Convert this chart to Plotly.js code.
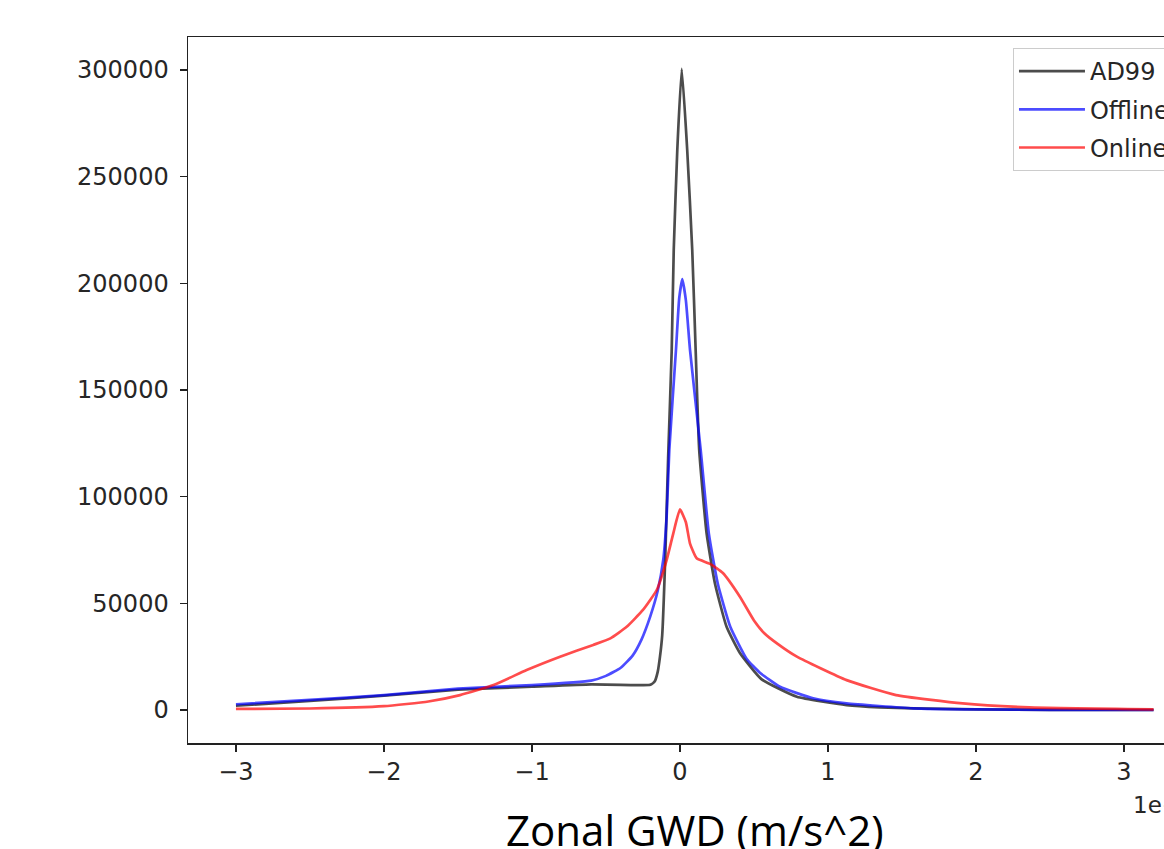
<!DOCTYPE html>
<html>
<head>
<meta charset="utf-8">
<script src="https://cdn.plot.ly/plotly-3.0.1.min.js"></script>
<style>
html,body{margin:0;padding:0;background:#fff;overflow:hidden;width:1164px;height:849px;}
#wrap{width:1164px;height:849px;overflow:hidden;position:relative;}
#chart{width:1240px;height:849px;}
</style>
</head>
<body>
<div id="wrap"><div id="chart"></div></div>
<script>
// AD99 (black)
const ad99X = [-3.0,-2.5,-2.0,-1.5,-1.0,-0.6,-0.3,-0.2,-0.17,-0.15,-0.135,-0.12,-0.1,-0.08,-0.056,-0.042,-0.018,0.012,0.049,0.083,0.106,0.13,0.18,0.236,0.315,0.405,0.55,0.79,1.126,1.35,1.58,2.0,2.5,3.2];
const ad99Y = [2000,4300,6700,9500,10900,12000,11700,11800,13500,18000,25000,35000,70000,118000,168000,215600,262500,300500,262500,215600,168750,121900,82800,59400,39000,26700,14500,6200,2300,1250,800,300,100,0];
// Offline (blue)
const offX = [-3.0,-2.5,-2.0,-1.5,-1.0,-0.6,-0.5,-0.4,-0.32,-0.26,-0.2,-0.15,-0.113,-0.09,-0.072,-0.027,-0.005,0.016,0.04,0.068,0.14,0.195,0.255,0.34,0.45,0.54,0.676,0.9,1.126,1.575,2.0,2.5,3.2];
const offY = [2700,4700,7000,10000,11700,13800,16000,19800,25500,33000,44000,56000,70300,90600,121900,168750,193000,202000,192000,168750,121900,82800,59400,39000,24000,17500,10900,5500,3100,800,300,100,0];
// Online (red)
const onX = [-3.0,-2.5,-2.0,-1.7,-1.486,-1.26,-1.036,-0.81,-0.586,-0.47,-0.36,-0.25,-0.157,-0.09,-0.045,0.0,0.04,0.068,0.113,0.203,0.29,0.405,0.5,0.57,0.66,0.79,1.126,1.46,1.91,2.36,3.2];
const onY = [500,700,1800,4000,7000,11700,18750,25000,30500,33600,39000,46900,56250,70300,82800,94000,88000,78000,71100,68500,64200,53100,42000,36000,31000,25000,14000,7000,3100,1250,300];

const seriesNames = ['AD99','Offline','Online'];
const seriesColors = ['rgba(0,0,0,0.7)','rgba(0,0,255,0.7)','rgba(255,0,0,0.7)'];

const xTickVals = [-3,-2,-1,0,1,2,3];
const xTickText = ['\u22123','\u22122','\u22121','0','1','2','3'];
const yTickVals = [0,50000,100000,150000,200000,250000,300000];
const yTickText = ['0','50000','100000','150000','200000','250000','300000'];

const xs = [ad99X, offX, onX];
const ys = [ad99Y, offY, onY];
const traces = seriesNames.map((n,i)=>({
  x: xs[i], y: ys[i], name: n, type: 'scatter', mode: 'lines',
  legendgroup: 'g'+i,
  line: {color: seriesColors[i], width: 2.7, shape: 'spline', smoothing: 0.45}
}));

const tickFont = {family: 'DejaVu Sans', size: 24, color: '#262626'};
const layout = {
  width: 1240, height: 849,
  margin: {l: 188, r: 41, t: 37, b: 106},
  paper_bgcolor: '#fff', plot_bgcolor: '#fff',
  showlegend: true,
  xaxis: {
    range: [-3.324, 3.507], tickvals: xTickVals, ticktext: xTickText,
    showgrid: false, zeroline: false, showline: true, linecolor: '#222', linewidth: 1.5,
    mirror: true, ticks: 'outside', ticklen: 7, tickwidth: 1.5, tickcolor: '#222',
    tickfont: tickFont, ticklabelstandoff: 0
  },
  yaxis: {
    range: [-15469, 315469], tickvals: yTickVals, ticktext: yTickText,
    showgrid: false, zeroline: false, showline: true, linecolor: '#222', linewidth: 1.5,
    mirror: true, ticks: 'outside', ticklen: 7, tickwidth: 1.5, tickcolor: '#222',
    tickfont: tickFont, ticklabelstandoff: 6
  },
  legend: {
    x: 0.816, y: 0.9844, xanchor: 'left', yanchor: 'top',
    bgcolor: 'rgba(255,255,255,0.8)', bordercolor: '#cccccc', borderwidth: 1,
    font: {family: 'DejaVu Sans', size: 24, color: '#262626'},
    itemwidth: 66, tracegroupgap: 4
  },
  annotations: [
    {text: '1e\u22125', xref: 'paper', yref: 'paper', x: 0.9327, y: -0.0878,
     xanchor: 'left', yanchor: 'middle', showarrow: false,
     font: {family: 'DejaVu Sans', size: 23, color: '#262626'}},
    {text: 'Zonal GWD (m/s^2)', xref: 'paper', yref: 'paper', x: 0.5015, y: -0.1232,
     xanchor: 'center', yanchor: 'middle', showarrow: false,
     font: {family: 'Open Sans', size: 42, color: '#000'}}
  ]
};
Plotly.newPlot('chart', traces, layout, {displayModeBar: false, staticPlot: true});
</script>
</body>
</html>
